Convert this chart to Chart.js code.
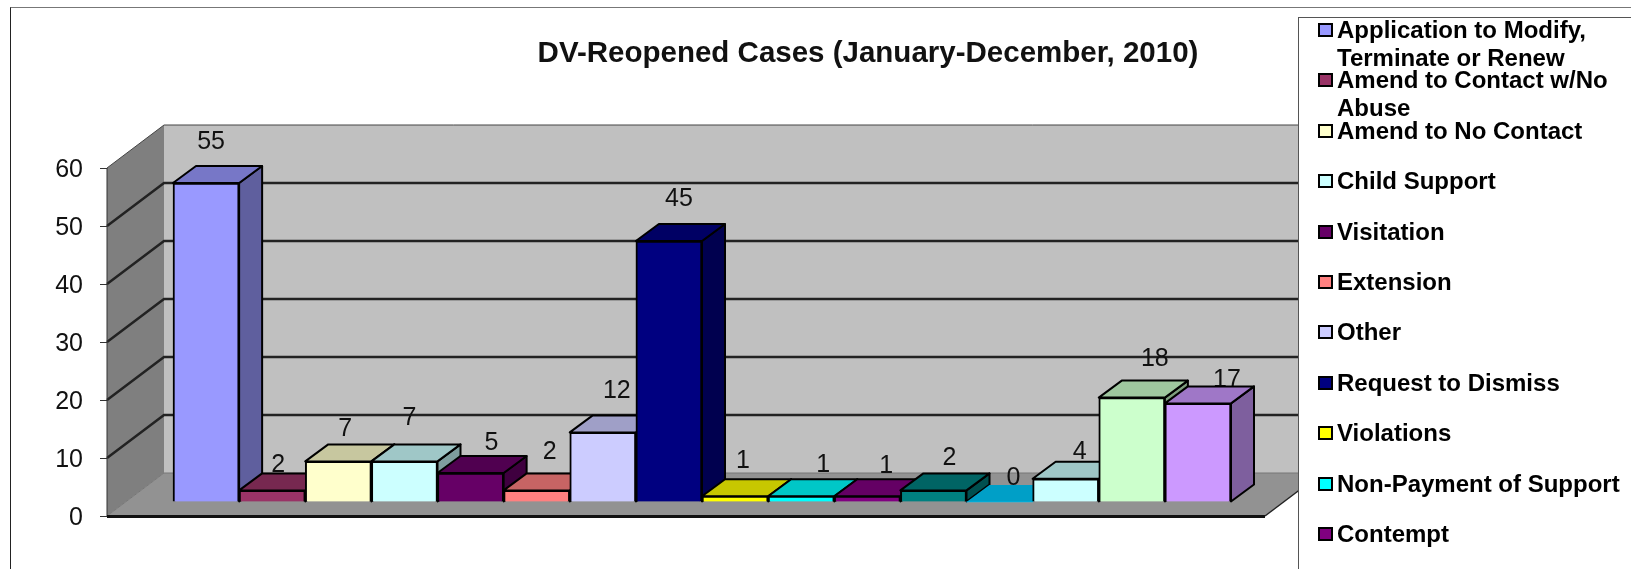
<!DOCTYPE html>
<html>
<head>
<meta charset="utf-8">
<script src="https://cdn.jsdelivr.net/npm/chart.js@4"></script>
<style>
html,body{margin:0;padding:0;background:#fff;width:1631px;height:569px;overflow:hidden}
#wrap{position:relative;width:1631px;height:569px;overflow:hidden}
#frame{position:absolute;left:10px;top:7px;width:1700px;height:700px;border-left:1.5px solid #222;border-top:1.5px solid #777;box-sizing:border-box}
canvas{position:absolute;left:0;top:0}
#legend{position:absolute;left:1298px;top:17px;width:400px;height:600px;background:#fff;border:1px solid #555;box-sizing:border-box;font:bold 24px "Liberation Sans",Arial,sans-serif;color:#000}
.item{position:absolute;left:19px;line-height:28px;white-space:pre}
.sw{position:absolute;left:0;top:7px;width:15px;height:14px;border:2.5px solid #000;box-sizing:border-box}
.tx{position:absolute;left:19px;top:0}
</style>
</head>
<body>
<div id="wrap">
<div id="frame"></div>
<canvas id="c" width="1631" height="569"></canvas>
<div id="legend"></div>
</div>
<script>
const chartTitle = "DV-Reopened Cases (January-December, 2010)";
const categories = [
  "Application to Modify,\nTerminate or Renew",
  "Amend to Contact w/No\nAbuse",
  "Amend to No Contact",
  "Child Support",
  "Visitation",
  "Extension",
  "Other",
  "Request to Dismiss",
  "Violations",
  "Non-Payment of Support",
  "Contempt",
  "", "", "", "", ""
];
const values = [55, 2, 7, 7, 5, 2, 12, 45, 1, 1, 1, 2, 0, 4, 18, 17];
const colors = ["#9999FF","#993366","#FFFFCC","#CCFFFF","#660066","#FF8080","#CCCCFF","#000080",
                "#FFFF00","#00FFFF","#800080","#008080","#00CCFF","#CCFFFF","#CCFFCC","#CC99FF"];
const yTicks = [0, 10, 20, 30, 40, 50, 60];
const labelNudgeX = [5, 6, 7, 5, 21, 13, 14, 10, 8, 22, 19, 16, 14, 14, 23, 29];
const labelNudgeY = [41, 25, 32, 43, 30, 38, 41, 42, 35, 31, 30, 32, 24, 27, 38, 23];

const wallDepth = {x: 57, y: -43};
const barShift  = {x: 66, y: -14};
const barDepth  = {x: 23, y: -17};
const floorRightExtra = 100;
const titleShift = 285.5;
const font = '"Liberation Sans", Arial, sans-serif';

function shade(hex, f) {
  const n = parseInt(hex.slice(1), 16);
  const c = [(n >> 16) & 255, (n >> 8) & 255, n & 255].map(v => Math.round(v * f));
  return `rgb(${c[0]},${c[1]},${c[2]})`;
}
function poly(ctx, pts, fill, stroke, lw) {
  ctx.beginPath();
  pts.forEach((p, i) => i ? ctx.lineTo(p[0], p[1]) : ctx.moveTo(p[0], p[1]));
  ctx.closePath();
  if (fill) { ctx.fillStyle = fill; ctx.fill(); }
  if (stroke) { ctx.strokeStyle = stroke; ctx.lineWidth = lw; ctx.lineJoin = 'round'; ctx.stroke(); }
}

const scene3d = {
  id: 'scene3d',
  afterLayout(chart) {
    const t = chart.titleBlock;
    t.left += titleShift; t.right += titleShift;
  },
  beforeDatasetsDraw(chart) {
    const {ctx, chartArea: a, scales: {y}} = chart;
    const L = a.left, R = a.right + floorRightExtra;
    const y0 = y.getPixelForValue(0), yMax = y.getPixelForValue(60);
    const bx = L + wallDepth.x, dy = wallDepth.y;
    const wallR = R + wallDepth.x;
    ctx.save();
    // back wall
    poly(ctx, [[bx, yMax + dy], [wallR, yMax + dy], [wallR, y0 + dy], [bx, y0 + dy]], '#c0c0c0');
    // side wall
    poly(ctx, [[L, yMax], [bx, yMax + dy], [bx, y0 + dy], [L, y0]], '#7f7f7f');
    // floor
    poly(ctx, [[L, y0], [bx, y0 + dy], [wallR, y0 + dy], [R, y0]], '#929292');
    // grid
    yTicks.forEach(v => {
      const py = y.getPixelForValue(v);
      ctx.beginPath();
      ctx.moveTo(L, py); ctx.lineTo(bx, py + dy); ctx.lineTo(wallR, py + dy);
      ctx.strokeStyle = v === 0 ? '#777' : v === 60 ? '#444' : '#222';
      ctx.lineWidth = v === 0 || v === 60 ? 1 : 2.5;
      ctx.stroke();
    });
    // side wall front edge and floor front edge
    ctx.strokeStyle = '#333'; ctx.lineWidth = 1;
    ctx.beginPath(); ctx.moveTo(L, yMax); ctx.lineTo(L, y0); ctx.stroke();
    ctx.strokeStyle = '#111'; ctx.lineWidth = 3;
    ctx.beginPath(); ctx.moveTo(L, y0 + .5); ctx.lineTo(R, y0 + .5); ctx.stroke();
    ctx.strokeStyle = '#222'; ctx.lineWidth = 1.5;
    ctx.beginPath(); ctx.moveTo(R, y0); ctx.lineTo(wallR, y0 + dy); ctx.stroke();

    // value labels sit behind the solid bars
    const bars = chart.getDatasetMeta(0).data;
    ctx.fillStyle = '#111';
    ctx.font = '25px ' + font;
    ctx.textAlign = 'center';
    ctx.textBaseline = 'middle';
    bars.forEach((b, i) => {
      ctx.fillText(String(values[i]),
        b.x + barShift.x + labelNudgeX[i],
        b.y + barShift.y - labelNudgeY[i]);
    });

    // side and top faces, left to right
    bars.forEach((b, i) => {
      const l = b.x - b.width / 2 + barShift.x, r = b.x + b.width / 2 + barShift.x;
      const top = b.y + barShift.y, base = b.base + barShift.y;
      const ddx = barDepth.x, ddy = barDepth.y;
      if (values[i] === 0) {
        poly(ctx, [[l, top], [r, top], [r + ddx, top + ddy], [l + ddx, top + ddy]], shade(colors[i], .78));
        return;
      }
      poly(ctx, [[r, top], [r + ddx, top + ddy], [r + ddx, base + ddy], [r, base]], shade(colors[i], .62), '#000', 2);
      poly(ctx, [[l, top], [r, top], [r + ddx, top + ddy], [l + ddx, top + ddy]], shade(colors[i], .78), '#000', 2);
    });
    ctx.restore();
    ctx.save();
    ctx.translate(barShift.x, barShift.y);
  },
  afterDatasetsDraw(chart) {
    chart.ctx.restore();
  }
};

new Chart(document.getElementById('c'), {
  type: 'bar',
  data: {
    labels: categories,
    datasets: [{
      data: values,
      backgroundColor: colors,
      borderColor: '#000',
      borderWidth: values.map(v => v === 0 ? 0 : 2),
      categoryPercentage: 1,
      barPercentage: 1,
      clip: false
    }]
  },
  options: {
    responsive: false,
    animation: false,
    layout: {padding: {left: 0, right: 466, top: 0, bottom: 53}},
    plugins: {
      legend: {display: false},
      tooltip: {enabled: false},
      title: {
        display: true,
        text: chartTitle,
        color: '#111',
        font: {family: font, size: 29.5, weight: 'bold', lineHeight: 1.2},
        padding: {top: 36, bottom: 96.6}
      }
    },
    scales: {
      x: {display: false},
      y: {
        min: 0, max: 60,
        afterBuildTicks(s) { s.ticks = yTicks.map(v => ({value: v})); },
        afterFit(s) { s.width = 107; },
        border: {display: false},
        grid: {drawOnChartArea: false, drawTicks: true, tickLength: 7, color: '#333', lineWidth: 1},
        ticks: {color: '#111', font: {family: font, size: 25}, padding: 17, labelOffset: 2}
      }
    }
  },
  plugins: [scene3d]
});

// Legend (the reference's box cuts it off after the eleventh entry)
const legend = document.getElementById('legend');
categories.slice(0, 11).forEach((name, i) => {
  const it = document.createElement('div');
  it.className = 'item';
  it.style.top = (30 + 50.4 * i - 14 - 18) + 'px';
  const sw = document.createElement('span');
  sw.className = 'sw';
  sw.style.background = colors[i];
  const tx = document.createElement('span');
  tx.className = 'tx';
  tx.textContent = name;
  it.append(sw, tx);
  legend.append(it);
});
</script>
</body>
</html>
